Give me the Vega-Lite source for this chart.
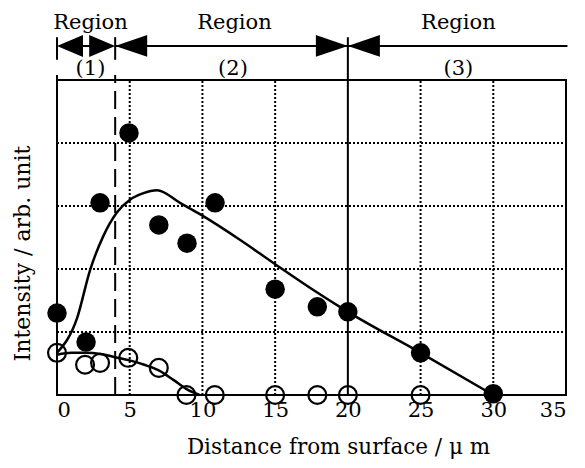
{
  "$schema": "https://vega.github.io/schema/vega-lite/v6.json",
  "width": 509,
  "height": 315,
  "autosize": {"type": "none"},
  "padding": {"left": 57, "top": 80, "right": 19, "bottom": 73},
  "background": "white",
  "config": {
    "view": {"stroke": "black", "strokeWidth": 2},
    "font": "DejaVu Serif",
    "axis": {"domain": false, "ticks": false, "grid": false, "labelColor": "black", "titleColor": "black", "labelFont": "DejaVu Serif", "titleFont": "DejaVu Serif", "titleFontWeight": "normal"}
  },
  "datasets": {
    "filled": [
      {"d": 0, "v": 1.3}, {"d": 2.0, "v": 0.84}, {"d": 2.96, "v": 3.05}, {"d": 4.95, "v": 4.16},
      {"d": 7.0, "v": 2.7}, {"d": 8.94, "v": 2.41}, {"d": 10.87, "v": 3.05}, {"d": 15.0, "v": 1.68},
      {"d": 17.9, "v": 1.4}, {"d": 20.0, "v": 1.32}, {"d": 25.0, "v": 0.67}, {"d": 30.0, "v": 0.02}
    ],
    "open": [
      {"d": 0, "v": 0.67}, {"d": 1.93, "v": 0.48}, {"d": 2.96, "v": 0.51}, {"d": 4.9, "v": 0.59},
      {"d": 7.0, "v": 0.43}, {"d": 8.9, "v": 0.0}, {"d": 10.85, "v": 0.0}, {"d": 15.0, "v": 0.0},
      {"d": 17.9, "v": 0.0}, {"d": 20.0, "v": 0.0}, {"d": 25.0, "v": 0.0}
    ],
    "fitFilled": [
      {"d": 0, "v": 0.67}, {"d": 1.38, "v": 1.22}, {"d": 2.27, "v": 1.98},
      {"d": 3.16, "v": 2.51}, {"d": 4.13, "v": 2.9}, {"d": 5.02, "v": 3.1}, {"d": 5.9, "v": 3.2},
      {"d": 6.88, "v": 3.25}, {"d": 8.46, "v": 3.05}, {"d": 9.83, "v": 2.87}, {"d": 12.6, "v": 2.46},
      {"d": 15.1, "v": 2.06}, {"d": 17.6, "v": 1.67}, {"d": 20.0, "v": 1.32}, {"d": 25.0, "v": 0.67},
      {"d": 30.0, "v": 0.0}
    ],
    "fitOpen": [
      {"d": 0, "v": 0.64}, {"d": 1, "v": 0.67}, {"d": 2, "v": 0.67}, {"d": 3, "v": 0.65},
      {"d": 4, "v": 0.6}, {"d": 5, "v": 0.55}, {"d": 6, "v": 0.48}, {"d": 7, "v": 0.39},
      {"d": 8, "v": 0.24}, {"d": 9, "v": 0.08}, {"d": 9.8, "v": 0.0}
    ],
    "gridX": [{"d": 5, "v": 0, "v2": 5}, {"d": 10, "v": 0, "v2": 5}, {"d": 15, "v": 0, "v2": 5}, {"d": 25, "v": 0, "v2": 5}, {"d": 30, "v": 0, "v2": 5}],
    "gridY": [{"v": 1, "d": 0, "d2": 35}, {"v": 2, "d": 0, "d2": 35}, {"v": 3, "d": 0, "d2": 35}, {"v": 4, "d": 0, "d2": 35}],
    "ticksTop": [{"d": 0, "v": 5.32, "v2": 5.68}, {"d": 4, "v": 5.32, "v2": 5.68}, {"d": 4, "v": 5.0, "v2": 5.08}, {"d": 0, "v": 5.0, "v2": 5.08}],
    "solid20": [{"d": 20, "v": 0, "v2": 5.68}],
    "dash4": [{"d": 4, "v": 0, "v2": 5.0}],
    "hlines": [{"d": 4, "d2": 20, "v": 5.54}, {"d": 20, "d2": 35.1, "v": 5.54}, {"d": 1.5, "d2": 2.5, "v": 5.54}],
    "arrowsR": [{"d": 20, "v": 5.54}],
    "arrowsL": [{"d": 4, "v": 5.54}, {"d": 20, "v": 5.54}],
    "arrowsR1": [{"d": 4, "v": 5.54}],
    "arrowsL1": [{"d": 0, "v": 5.54}],
    "labels": [
      {"d": 2.3, "v": 5.9, "t": "Region"}, {"d": 12.2, "v": 5.9, "t": "Region"}, {"d": 27.6, "v": 5.9, "t": "Region"},
      {"d": 2.3, "v": 5.18, "t": "(1)"}, {"d": 12.1, "v": 5.18, "t": "(2)"}, {"d": 27.6, "v": 5.18, "t": "(3)"}
    ]
  },
  "encoding": {
    "x": {"field": "d", "type": "quantitative", "scale": {"domain": [0, 35], "nice": false}, "axis": {"values": [0, 5, 10, 15, 20, 25, 30, 35], "labelFontSize": 21, "labelPadding": 4, "title": "Distance from surface / μ m", "titleFontSize": 21.5, "titlePadding": 16, "titleX": 281}},
    "y": {"field": "v", "type": "quantitative", "scale": {"domain": [0, 5], "nice": false, "zero": false}, "axis": {"labels": false, "title": "Intensity / arb. unit", "titleFontSize": 22, "titlePadding": 23, "titleY": 173}}
  },
  "layer": [
    {"data": {"name": "gridX"}, "mark": {"type": "rule", "color": "black", "strokeWidth": 2, "strokeDash": [2, 2]}, "encoding": {"y2": {"field": "v2"}}},
    {"data": {"name": "gridY"}, "mark": {"type": "rule", "color": "black", "strokeWidth": 2, "strokeDash": [2, 2]}, "encoding": {"x2": {"field": "d2"}}},
    {"data": {"name": "dash4"}, "mark": {"type": "rule", "color": "black", "strokeWidth": 2, "strokeDash": [18, 8]}, "encoding": {"y2": {"field": "v2"}}},
    {"data": {"name": "solid20"}, "mark": {"type": "rule", "color": "black", "strokeWidth": 2}, "encoding": {"y2": {"field": "v2"}}},
    {"data": {"name": "ticksTop"}, "mark": {"type": "rule", "color": "black", "strokeWidth": 2}, "encoding": {"y2": {"field": "v2"}}},
    {"data": {"name": "hlines"}, "mark": {"type": "rule", "color": "black", "strokeWidth": 2}, "encoding": {"x2": {"field": "d2"}}},
    {"data": {"name": "arrowsR"}, "mark": {"type": "point", "shape": "M0,0L-1,-0.34L-1,0.34Z", "filled": true, "color": "black", "opacity": 1, "size": 4096}},
    {"data": {"name": "arrowsL"}, "mark": {"type": "point", "shape": "M0,0L1,-0.34L1,0.34Z", "filled": true, "color": "black", "opacity": 1, "size": 4096}},
    {"data": {"name": "arrowsR1"}, "mark": {"type": "point", "shape": "M0,0L-1,-0.42L-1,0.42Z", "filled": true, "color": "black", "opacity": 1, "size": 2704}},
    {"data": {"name": "arrowsL1"}, "mark": {"type": "point", "shape": "M0,0L1,-0.42L1,0.42Z", "filled": true, "color": "black", "opacity": 1, "size": 2704}},
    {"data": {"name": "labels"}, "mark": {"type": "text", "font": "DejaVu Serif", "fontSize": 21, "color": "black"}, "encoding": {"text": {"field": "t"}}},
    {"data": {"name": "fitFilled"}, "mark": {"type": "line", "color": "black", "strokeWidth": 2.5, "interpolate": "monotone"}},
    {"data": {"name": "fitOpen"}, "mark": {"type": "line", "color": "black", "strokeWidth": 2.5, "interpolate": "monotone"}},
    {"data": {"name": "open"}, "mark": {"type": "point", "shape": "circle", "filled": false, "color": "black", "opacity": 1, "strokeWidth": 2.2, "size": 320}},
    {"data": {"name": "filled"}, "mark": {"type": "point", "shape": "circle", "filled": true, "color": "black", "opacity": 1, "size": 380}}
  ]
}
